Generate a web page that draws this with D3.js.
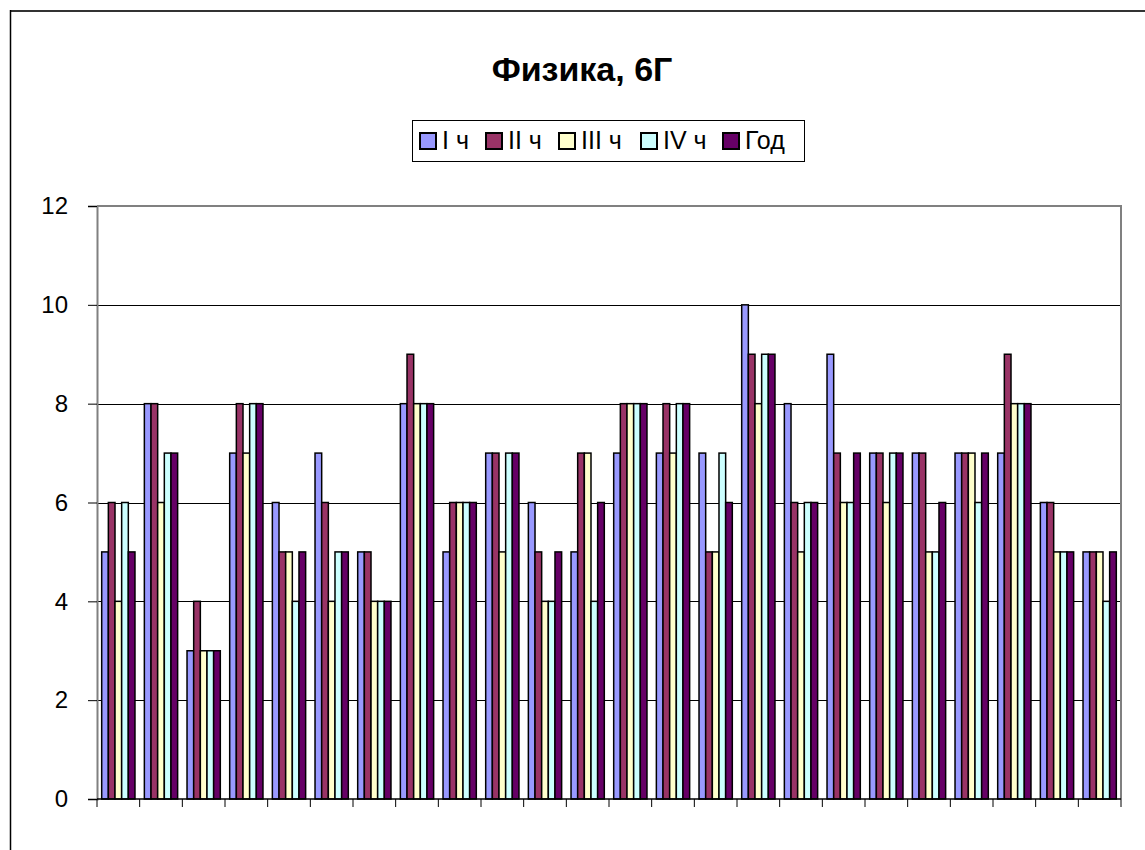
<!DOCTYPE html>
<html lang="ru">
<head>
  <meta charset="UTF-8">
  <script src="https://d3js.org/d3.v7.min.js"></script>
  <style>
    body { margin: 0; background: #fff; }
    svg { display: block; }
    text { font-family: "Liberation Sans", Arial, sans-serif; }
  </style>
</head>
<body>
  <script>
    const width = 1145;
    const height = 850;

    // data: 24 pupils, five marks each
    const series = ["I ч", "II ч", "III ч", "IV ч", "Год"];
    const colors = ["#9999FF", "#993366", "#FFFFCC", "#CCFFFF", "#660066"];
    const q1   = [5, 8, 3, 7, 6, 7, 5, 8, 5, 7, 6, 5, 7, 7, 7, 10, 8, 9, 7, 7, 7, 7, 6, 5];
    const q2   = [6, 8, 4, 8, 5, 6, 5, 9, 6, 7, 5, 7, 8, 8, 5, 9, 6, 7, 7, 7, 7, 9, 6, 5];
    const q3   = [4, 6, 3, 7, 5, 4, 4, 8, 6, 5, 4, 7, 8, 7, 5, 8, 5, 6, 6, 5, 7, 8, 5, 5];
    const q4   = [6, 7, 3, 8, 4, 5, 4, 8, 6, 7, 4, 4, 8, 8, 7, 9, 6, 6, 7, 5, 6, 8, 5, 4];
    const year = [5, 7, 3, 8, 5, 5, 4, 8, 6, 7, 5, 6, 8, 8, 6, 9, 6, 7, 7, 6, 7, 8, 5, 5];
    const yTicks = [0, 2, 4, 6, 8, 10, 12];

    const values = [q1, q2, q3, q4, year];
    const groups = d3.range(q1.length);

    const plotL = 97, plotR = 1121, plotT = 206, plotB = 799;

    const svg = d3.select("body")
      .append("svg")
      .attr("width", width)
      .attr("height", height);

    // chart frame
    svg.append("line").attr("x1", 10).attr("x2", width).attr("y1", 11).attr("y2", 11)
      .attr("stroke", "#333").attr("stroke-width", 2);
    svg.append("line").attr("x1", 10.5).attr("x2", 10.5).attr("y1", 10).attr("y2", height)
      .attr("stroke", "#000").attr("stroke-width", 1.5);

    svg.append("text")
      .attr("x", 582)
      .attr("y", 81)
      .attr("text-anchor", "middle")
      .attr("font-size", 34)
      .attr("font-weight", "bold")
      .text("Физика, 6Г");

    const x0 = d3.scaleBand()
      .domain(groups)
      .range([plotL, plotR])
      .paddingInner(0.22)
      .paddingOuter(0.11);

    const x1 = d3.scaleBand()
      .domain(d3.range(series.length))
      .range([0, x0.bandwidth()]);

    const y = d3.scaleLinear()
      .domain([0, 12])
      .range([plotB, plotT]);

    // gridlines
    svg.append("g")
      .selectAll("line")
      .data(yTicks.filter(d => d > 0 && d < 12))
      .join("line")
      .attr("x1", plotL).attr("x2", plotR)
      .attr("y1", d => Math.round(y(d)) + 0.5)
      .attr("y2", d => Math.round(y(d)) + 0.5)
      .attr("stroke", "#000");

    // plot border top / right
    svg.append("path")
      .attr("d", `M${plotL},${plotT}H${plotR}V${plotB}`)
      .attr("fill", "none")
      .attr("stroke", "#808080")
      .attr("stroke-width", 2);

    // bars
    svg.append("g")
      .selectAll("g")
      .data(groups)
      .join("g")
      .attr("transform", d => `translate(${x0(d)},0)`)
      .selectAll("rect")
      .data(g => values.map((s, i) => ({ i, v: s[g] })))
      .join("rect")
      .attr("x", d => x1(d.i))
      .attr("y", d => y(d.v))
      .attr("width", x1.bandwidth())
      .attr("height", d => plotB - y(d.v))
      .attr("fill", d => colors[d.i])
      .attr("stroke", "#000")
      .attr("stroke-width", 1.5);

    // y axis
    const yAxis = svg.append("g")
      .attr("transform", `translate(${plotL},0)`)
      .call(d3.axisLeft(y).tickValues(yTicks).tickSize(9).tickPadding(20).tickFormat(d3.format("d")));
    yAxis.select(".domain").attr("stroke", "#808080").attr("stroke-width", 2);
    yAxis.selectAll(".tick line").attr("stroke", "#000");
    yAxis.selectAll("text")
      .attr("font-size", 24)
      .attr("font-family", "Liberation Sans, Arial, sans-serif")
      .attr("fill", "#000");

    // x axis: ticks between groups, no labels
    const step = x0.step();
    svg.append("line")
      .attr("x1", plotL).attr("x2", plotR)
      .attr("y1", plotB).attr("y2", plotB)
      .attr("stroke", "#000").attr("stroke-width", 1.5);
    svg.append("g")
      .selectAll("line")
      .data(d3.range(q1.length + 1))
      .join("line")
      .attr("x1", d => plotL + d * step)
      .attr("x2", d => plotL + d * step)
      .attr("y1", plotB)
      .attr("y2", plotB + 8)
      .attr("stroke", "#000");

    // legend
    const legend = svg.append("g");
    legend.append("rect")
      .attr("x", 412.5).attr("y", 120.5)
      .attr("width", 392).attr("height", 41)
      .attr("fill", "#fff")
      .attr("stroke", "#000");
    const legendX = [420, 486, 559, 641, 723];
    const items = legend.selectAll("g.item")
      .data(series)
      .join("g")
      .attr("class", "item")
      .attr("transform", (d, i) => `translate(${legendX[i]},133)`);
    items.append("rect")
      .attr("width", 16).attr("height", 16)
      .attr("fill", (d, i) => colors[i])
      .attr("stroke", "#000")
      .attr("stroke-width", 2);
    items.append("text")
      .attr("x", 22)
      .attr("y", 16)
      .attr("font-size", 25)
      .text(d => d);
  </script>
</body>
</html>
